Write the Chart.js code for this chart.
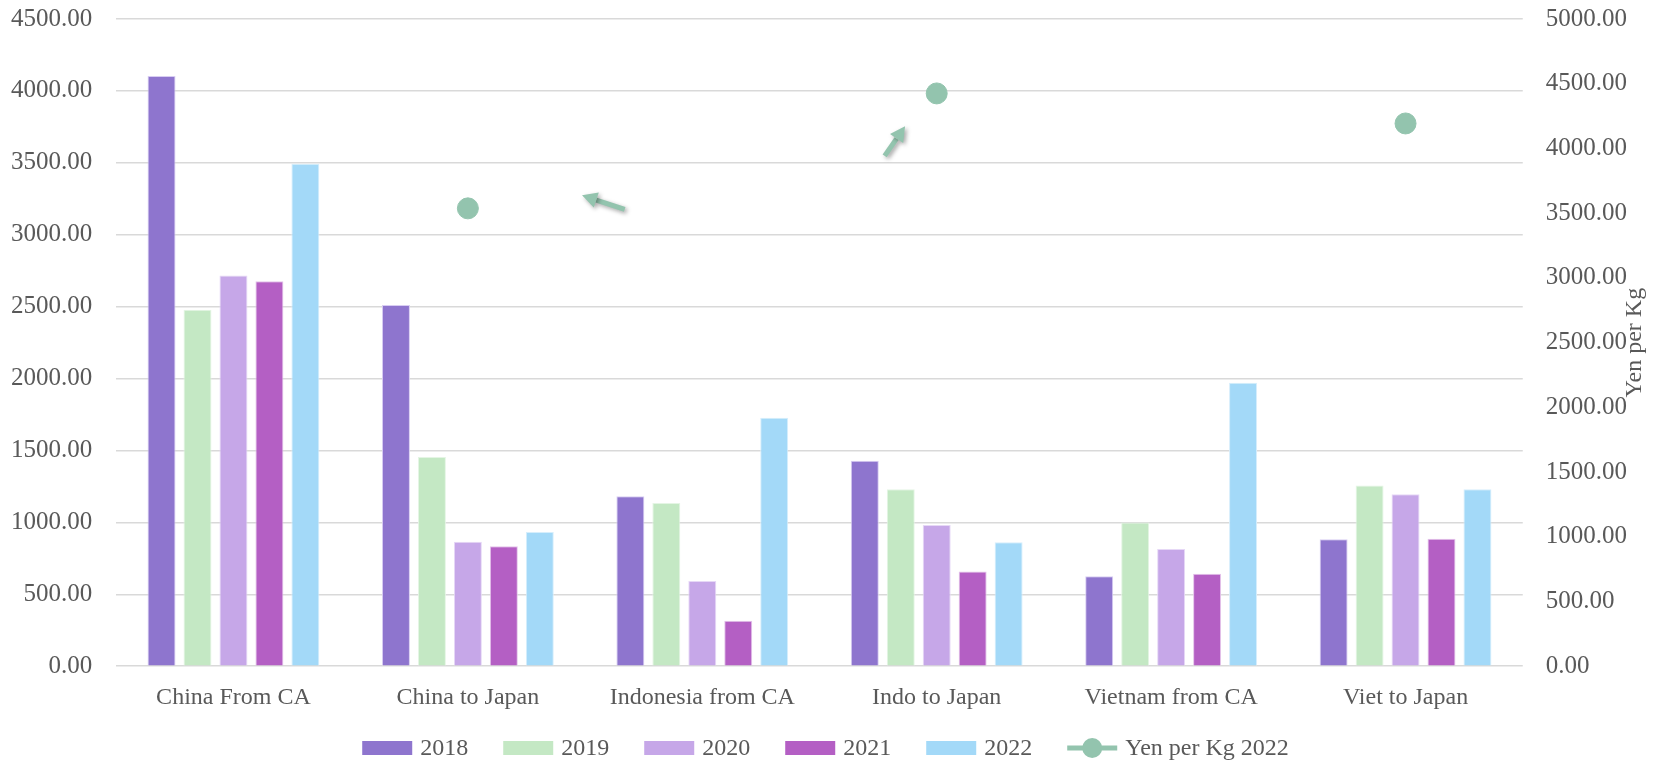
<!DOCTYPE html>
<html>
<head>
<meta charset="utf-8">
<script src="https://cdn.jsdelivr.net/npm/chart.js@4.4.1/dist/chart.umd.min.js"></script>
<style>
  html, body { margin: 0; padding: 0; background: #fff; }
  #wrap { width: 1659px; height: 761px; position: relative; }
</style>
</head>
<body>
<div id="wrap"><canvas id="chart"></canvas></div>
<script>
'use strict';

// ===== data =====
const CATEGORIES = ["China From CA", "China to Japan", "Indonesia from CA", "Indo to Japan", "Vietnam from CA", "Viet to Japan"];

const V2018 = [4104, 2512, 1182, 1428, 625, 882];
const V2019 = [2479, 1455, 1135, 1230, 1000, 1256];
const V2020 = [2716, 866, 592, 982, 815, 1196];
const V2021 = [2676, 834, 316, 659, 643, 887];
const V2022 = [3494, 933, 1727, 861, 1971, 1230];

const YEN_PER_KG_2022 = [null, 3537, null, 4425, null, 4193];

const LEFT_TICKS = { min: 0, max: 4500, step: 500 };
const RIGHT_TICKS = { min: 0, max: 5000, step: 500 };

// arrow shapes in the original (category index, right-axis value): [fromX, fromY, toX, toY]
const ARROWS = [
  [1.669, 3529, 1.487, 3638],
  [2.778, 3942, 2.865, 4172]
];

// ===== colours =====
const BAR_COLORS = ["#8e75ce", "#c4e8c4", "#c6a7e8", "#b45fc4", "#a3d9f8"];
const BAR_EDGES = ["#d8cdf2", "#e4f5e4", "#e6d8f6", "#e3c3ea", "#d6eefc"];
const DOT_COLOR = "#93c4ae";
const TEXT_COLOR = "#595959";
const GRID_COLOR = "#d9d9d9";
const FONT = "'Liberation Serif', 'Times New Roman', serif";

const fmt = v => Number(v).toFixed(2);

function barSet(label, values, i){
  return {
    type: 'bar',
    label,
    data: values,
    backgroundColor: BAR_COLORS[i],
    borderColor: BAR_EDGES[i],
    borderWidth: 1,
    categoryPercentage: 0.767,
    barPercentage: 0.778,
    yAxisID: 'y',
    order: 2
  };
}

// ===== plugins =====
const rightTitle = {
  id: 'rightTitle',
  afterDraw(chart){
    const { ctx, chartArea } = chart;
    ctx.save();
    ctx.translate(1635, (chartArea.top + chartArea.bottom) / 2);
    ctx.rotate(-Math.PI / 2);
    ctx.font = `24px ${FONT}`;
    ctx.fillStyle = TEXT_COLOR;
    ctx.textAlign = 'center';
    ctx.textBaseline = 'middle';
    ctx.fillText('Yen per Kg', 0, 0);
    ctx.restore();
  }
};

const arrows = {
  id: 'arrows',
  afterDatasetsDraw(chart){
    const { ctx } = chart;
    const xs = chart.scales.x, ys = chart.scales.y1;
    for (const a of ARROWS) {
      const x0 = xs.getPixelForValue(a[0]), y0 = ys.getPixelForValue(a[1]);
      const x1 = xs.getPixelForValue(a[2]), y1 = ys.getPixelForValue(a[3]);
      const ang = Math.atan2(y1 - y0, x1 - x0);
      const head = 15, half = 8;
      const bx = x1 - head * Math.cos(ang), by = y1 - head * Math.sin(ang);
      ctx.save();
      ctx.shadowColor = 'rgba(0,0,0,0.35)';
      ctx.shadowBlur = 4;
      ctx.shadowOffsetX = 2;
      ctx.shadowOffsetY = 2;
      ctx.fillStyle = DOT_COLOR;
      ctx.strokeStyle = DOT_COLOR;
      ctx.lineWidth = 5;
      ctx.beginPath();
      ctx.moveTo(x0, y0);
      ctx.lineTo(bx, by);
      ctx.stroke();
      ctx.beginPath();
      ctx.moveTo(x1, y1);
      ctx.lineTo(bx + half * Math.sin(ang), by - half * Math.cos(ang));
      ctx.lineTo(bx - half * Math.sin(ang), by + half * Math.cos(ang));
      ctx.closePath();
      ctx.fill();
      ctx.restore();
    }
  }
};

const bottomLegend = {
  id: 'bottomLegend',
  afterDraw(chart){
    const { ctx, width, height } = chart;
    const sets = chart.data.datasets;
    ctx.save();
    ctx.font = `24px ${FONT}`;
    ctx.textBaseline = 'middle';
    const box = 50, gap = 8, spacing = 35;
    const items = sets.map(ds => ({ ds, w: box + gap + ctx.measureText(ds.label).width }));
    const total = items.reduce((s, it) => s + it.w, 0) + spacing * (items.length - 1);
    let x = (width - total) / 2 - 4;
    const y = height - 13;
    for (const it of items) {
      const ds = it.ds;
      if (ds.type === 'line') {
        ctx.strokeStyle = DOT_COLOR;
        ctx.lineWidth = 5;
        ctx.beginPath();
        ctx.moveTo(x, y);
        ctx.lineTo(x + box, y);
        ctx.stroke();
        ctx.fillStyle = DOT_COLOR;
        ctx.beginPath();
        ctx.arc(x + box / 2, y, 10, 0, Math.PI * 2);
        ctx.fill();
      } else {
        ctx.fillStyle = ds.backgroundColor;
        ctx.fillRect(x, y - 7, box, 14);
      }
      ctx.fillStyle = TEXT_COLOR;
      ctx.fillText(ds.label, x + box + gap, y + 1);
      x += it.w + spacing;
    }
    ctx.restore();
  }
};

// ===== chart =====
const chart = new Chart(document.getElementById('chart'), {
  data: {
    labels: CATEGORIES,
    datasets: [
      barSet('2018', V2018, 0),
      barSet('2019', V2019, 1),
      barSet('2020', V2020, 2),
      barSet('2021', V2021, 3),
      barSet('2022', V2022, 4),
      {
        type: 'line',
        label: 'Yen per Kg 2022',
        data: YEN_PER_KG_2022,
        yAxisID: 'y1',
        showLine: false,
        pointRadius: 10.5,
        pointHoverRadius: 10.5,
        pointBackgroundColor: DOT_COLOR,
        pointBorderColor: DOT_COLOR,
        borderColor: DOT_COLOR,
        backgroundColor: DOT_COLOR,
        order: 1
      }
    ]
  },
  options: {
    responsive: true,
    maintainAspectRatio: false,
    animation: false,
    layout: { padding: { left: 8, right: 29, top: 19, bottom: 32 } },
    plugins: {
      legend: { display: false },
      tooltip: { enabled: false }
    },
    scales: {
      x: {
        grid: { display: false, drawTicks: false },
        border: { display: false },
        ticks: { color: TEXT_COLOR, font: { family: FONT, size: 24 }, padding: 17, maxRotation: 0 }
      },
      y: {
        position: 'left',
        min: LEFT_TICKS.min,
        max: LEFT_TICKS.max,
        grid: { color: GRID_COLOR, lineWidth: 1.5, drawTicks: true, tickLength: 21, tickColor: 'rgba(0,0,0,0)' },
        border: { display: false },
        ticks: { stepSize: LEFT_TICKS.step, color: TEXT_COLOR, font: { family: FONT, size: 25 }, padding: 3, callback: fmt }
      },
      y1: {
        position: 'right',
        min: RIGHT_TICKS.min,
        max: RIGHT_TICKS.max,
        grid: { drawOnChartArea: false, drawTicks: true, tickLength: 20, tickColor: 'rgba(0,0,0,0)' },
        border: { display: false },
        ticks: { stepSize: RIGHT_TICKS.step, color: TEXT_COLOR, font: { family: FONT, size: 25 }, padding: 3, callback: fmt }
      }
    }
  },
  plugins: [arrows, rightTitle, bottomLegend]
});
</script>
</body>
</html>
